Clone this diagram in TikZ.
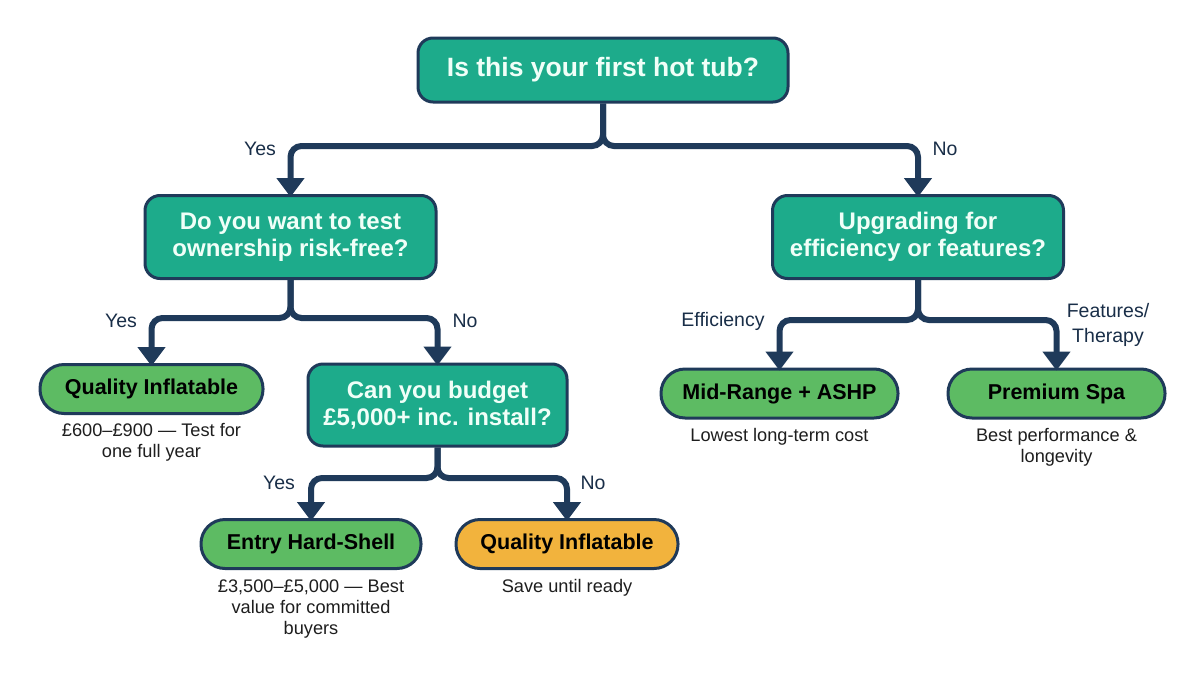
\documentclass[tikz,border=0pt]{standalone}
\usepackage{fontspec}
\setmainfont{Liberation Sans}
\usetikzlibrary{arrows.meta}
\definecolor{navy}{HTML}{1F3A5A}
\definecolor{teal}{HTML}{1DAB8B}
\definecolor{leaf}{HTML}{5DBB63}
\definecolor{amber}{HTML}{F2B33D}
\definecolor{txt}{HTML}{1E1E1E}
\definecolor{qtxt}{HTML}{F0FFF8}
\tikzset{
  qbox/.style={draw=navy, line width=3pt, fill=teal, rounded corners=15pt, text=qtxt,
    font=\fontsize{24}{27}\selectfont\bfseries, align=center, inner sep=0pt},
  leafbox/.style={draw=navy, line width=3pt, fill=leaf, rounded corners=24pt, text=black,
    font=\fontsize{21.5}{24}\selectfont\bfseries, inner sep=0pt, minimum height=49pt},
  warnbox/.style={leafbox, fill=amber},
  sub/.style={text=txt, font=\fontsize{18.2}{21}\selectfont, align=center, anchor=north},
  lbl/.style={text=navy!80!black, font=\fontsize{19.5}{25}\selectfont, align=center},
  conn/.style={draw=navy, line width=6pt, rounded corners=11pt,
    -{Triangle[width=27pt,length=19pt]}},
}
\begin{document}
\begin{tikzpicture}[x=1pt,y=-1pt]
\useasboundingbox[fill=white] (0,0) rectangle (1204,672);

% nodes
\node[qbox, minimum width=370pt, minimum height=64pt, font=\fontsize{26.5}{30}\selectfont\bfseries] (q1) at (603,70) {Is this your first hot tub?};
\node[qbox, minimum width=291pt, minimum height=83pt] (q2) at (290.5,237) {Do you want to test\\ownership risk-free?};
\node[qbox, minimum width=291pt, minimum height=83pt] (q3) at (918,237) {Upgrading for\\efficiency or features?};
\node[qbox, minimum width=259pt, minimum height=82pt] (q4) at (437.5,405) {Can you budget\\£5,000+ inc. install?};

\node[leafbox, minimum width=223pt] (l1) at (151.5,389) {Quality Inflatable};
\node[leafbox, minimum width=220pt] (l2) at (311,544) {Entry Hard-Shell};
\node[warnbox, minimum width=222pt] (l3) at (567,544) {Quality Inflatable};
\node[leafbox, minimum width=237pt] (l4) at (779.5,393.5) {Mid-Range + ASHP};
\node[leafbox, minimum width=217pt] (l5) at (1056.5,393.5) {Premium Spa};

% sub texts
\node[sub] (s1) at (151.5,420) {£600–£900 — Test for\\one full year};
\node[sub] (s2) at (311,576) {£3,500–£5,000 — Best\\value for committed\\buyers};
\node[sub] (s3) at (567,576) {Save until ready};
\node[sub] (s4) at (779.5,425) {Lowest long-term cost};
\node[sub] (s5) at (1056.5,425) {Best performance \&\\longevity};

% junction coordinates
\coordinate (j1) at (603,146);
\coordinate (j2) at (290.5,318);
\coordinate (j3) at (918,320);
\coordinate (j4) at (437.5,478);

% connectors
\draw[conn] (q1.south) -- (j1) -- (q2.north |- j1) -- ([yshift=-3pt]q2.north);
\draw[conn] (q1.south) -- (j1) -- (q3.north |- j1) -- ([yshift=-3pt]q3.north);
\draw[conn] (q2.south) -- (j2) -- (l1.north |- j2) -- ([yshift=-3pt]l1.north);
\draw[conn] (q2.south) -- (j2) -- (q4.north |- j2) -- ([yshift=-3pt]q4.north);
\draw[conn] (q4.south) -- (j4) -- (l2.north |- j4) -- ([yshift=-3pt]l2.north);
\draw[conn] (q4.south) -- (j4) -- (l3.north |- j4) -- ([yshift=-3pt]l3.north);
\draw[conn] (q3.south) -- (j3) -- (l4.north |- j3) -- ([yshift=-3pt]l4.north);
\draw[conn] (q3.south) -- (j3) -- (l5.north |- j3) -- ([yshift=-3pt]l5.north);

% labels
\node[lbl] (t1) at (260,149) {Yes};
\node[lbl] (t2) at (945,149) {No};
\node[lbl] (t3) at (121,321) {Yes};
\node[lbl] (t4) at (465,321) {No};
\node[lbl] (t5) at (279,483) {Yes};
\node[lbl] (t6) at (593,483) {No};
\node[lbl] (t7) at (723,321) {Efficiency};
\node[lbl] (t8) at (1108,325) {Features/\\Therapy};
\end{tikzpicture}
\end{document}
